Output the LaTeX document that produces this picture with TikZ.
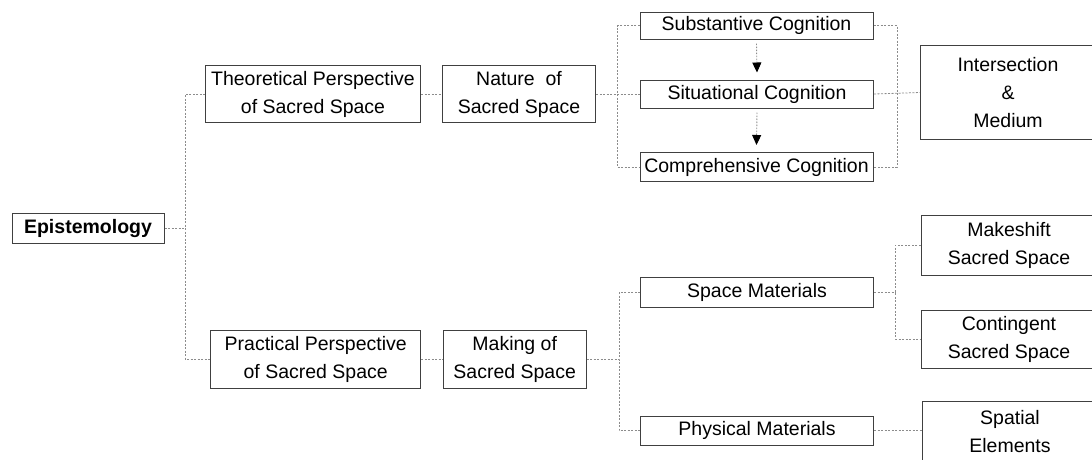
\documentclass[tikz,border=0pt]{standalone}
\usepackage{fontspec}
\setmainfont{Liberation Sans}
\usepackage{tikz}
\usetikzlibrary{
  arrows.meta
}

\begin{document}
\begin{tikzpicture}[
          x=1pt,y=-1pt,
          box/.style={
              draw=black!75,
              line width=1pt,
              inner sep=0pt,
              align=center,
              font=\fontsize{19.5}{28}\selectfont
            },box/.default={},
          link/.style={
              draw=black!45,
              line width=0.8pt,
              dash pattern=on 2pt off 1.5pt
            },flow/.style={
              draw=black!45,
              line width=0.9pt,
              dash pattern=on 1.5pt off 1.5pt,
              -{Triangle[color=black,length=10pt,width=9pt]}
            }
        ]
        % 描画範囲
        \useasboundingbox (0,0) rectangle (1092,459);

        % 左側のノード
        \node[box,minimum width=152,minimum height=30] (epi) at (88,228) {\bfseries Epistemology};
        \node[box,minimum width=215,minimum height=57] (theo) at (313,94) {Theoretical Perspective\\of Sacred Space};
        \node[box,minimum width=210,minimum height=58] (prac) at (315.7,359) {Practical Perspective\\of Sacred Space};
        \node[box,minimum width=153,minimum height=57] (nat) at (519,94) {Nature~ of\\Sacred Space};
        \node[box,minimum width=143,minimum height=58] (mak) at (514.7,359) {Making of\\Sacred Space};

        % 認知のノード
        \node[box,minimum width=233,minimum height=27] (subc) at (756.5,25.7) {Substantive Cognition};
        \node[box,minimum width=233,minimum height=28] (situ) at (757,94) {Situational Cognition};
        \node[box,minimum width=233,minimum height=29] (comp) at (756.5,167) {Comprehensive Cognition};
        \node[box,minimum width=176,minimum height=94] (inter) at (1008,92.5) {Intersection\\\&\\Medium};

        % 材料のノード
        \node[box,minimum width=233,minimum height=30] (spm) at (757,292) {Space Materials};
        \node[box,minimum width=233,minimum height=29] (phm) at (757,430.5) {Physical Materials};
        \node[box,minimum width=176,minimum height=60] (mks) at (1009,245) {Makeshift\\Sacred Space};
        \node[box,minimum width=176,minimum height=58] (cont) at (1009,339) {Contingent\\Sacred Space};
        \node[box,minimum width=176,minimum height=60] (spat) at (1010,431.5) {Spatial\\Elements};

        % 分岐点の定義
        \coordinate (j1) at (185,228);
        \coordinate (j2) at (617,94);
        \coordinate (j3) at (897,94);
        \coordinate (j4) at (619,359);
        \coordinate (j5) at (895.3,292);

        % 上側の経路
        \draw[link] (epi.east) -- (j1);
        \draw[link] (theo.west) -| (j1) |- (prac.west);
        \draw[link] (theo.east) -- (nat.west);
        \draw[link] (nat.east) -- (situ.west);
        \draw[link] (subc.west) -| (j2) |- (comp.west);
        \draw[link] (subc.east) -| (j3) |- (comp.east);
        \draw[link] (situ.east) -- (inter.west);
        \draw[flow] ([yshift=-4pt]subc.south) -- ([yshift=7pt]situ.north);
        \draw[flow] ([yshift=-4pt]situ.south) -- ([yshift=7pt]comp.north);

        % 下側の経路
        \draw[link] (prac.east) -- (mak.west);
        \draw[link] (mak.east) -- (j4);
        \draw[link] (spm.west) -| (j4) |- (phm.west);
        \draw[link] (spm.east) -- (j5);
        \draw[link] (mks.west) -| (j5) |- (cont.west);
        \draw[link] (phm.east) -- (phm.east -| spat.west);

      \end{tikzpicture}
\end{document}
